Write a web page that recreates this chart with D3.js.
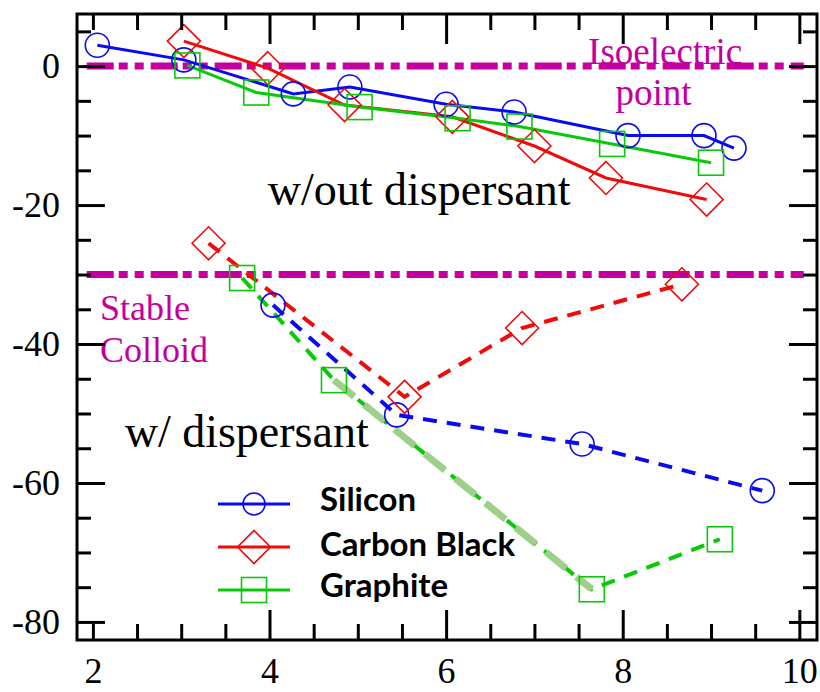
<!DOCTYPE html>
<html>
<head>
<meta charset="utf-8">
<script src="https://cdn.jsdelivr.net/npm/d3@7"></script>
<style>
  html, body { margin: 0; padding: 0; background: #fff; }
  svg { display: block; }
  .serif { font-family: "Liberation Serif", "DejaVu Serif", serif; }
  .legend-label { font-family: Lato, "Liberation Sans", sans-serif; font-weight: bold; }
</style>
</head>
<body>
<div id="chart"></div>
<script>
// pH (x) vs zeta potential in mV (y)
const siliconNoDispX = [2.05, 3.03, 4.27, 4.91, 6.0, 6.77, 8.06, 8.92, 9.26];
const siliconNoDispY = [3.0, 0.9, -4.0, -3.0, -5.5, -6.6, -10.0, -10.0, -11.8];
const carbonNoDispX = [3.03, 3.98, 4.85, 6.07, 7.0, 7.81, 8.95];
const carbonNoDispY = [3.6, -0.3, -5.6, -7.3, -11.5, -16.1, -19.2];
const graphiteNoDispX = [3.07, 3.85, 5.02, 6.13, 6.83, 7.88, 9.0];
const graphiteNoDispY = [0.1, -3.8, -5.9, -7.5, -8.7, -11.2, -13.9];

const siliconDispX = [4.04, 5.44, 7.54, 9.58];
const siliconDispY = [-34.4, -50.2, -54.4, -61.1];
const carbonDispX = [3.31, 5.53, 6.86, 8.67];
const carbonDispY = [-25.5, -47.6, -37.7, -31.4];
const graphiteDispX = [3.69, 4.73, 7.65, 9.1];
const graphiteDispY = [-30.5, -45.2, -75.3, -68.1];

const seriesNames = ["Silicon", "Carbon Black", "Graphite"];
const seriesColors = ["#0a0af0", "#f00a0a", "#0ac80a"];
const seriesShapes = ["circle", "diamond", "square"];

const refLevels = [0, -30];          // isoelectric point, stable colloid limit
const refRange = [1.93, 10.05];

const xMajorTicks = [4, 6, 8, 10];
const xLabelTicks = [2, 4, 6, 8, 10];
const yMajorTicks = [-80, -60, -40, -20, 0];

const magenta = "#c3009e";

const width = 820;
const height = 692;
const margin = { top: 14, right: 3, bottom: 52, left: 77 };

const svg = d3.select("#chart")
  .append("svg")
  .attr("width", width)
  .attr("height", height);

const x = d3.scaleLinear()
  .domain([1.82, 10.2])
  .range([margin.left, width - margin.right]);

const y = d3.scaleLinear()
  .domain([-82.6, 7.5])
  .range([height - margin.bottom, margin.top]);

const xMinor = d3.range(2, 10.01, 0.5).filter(v => !xMajorTicks.includes(v));
const yMinor = d3.range(-80, 5.01, 5).filter(v => !yMajorTicks.includes(v));

// reference dash-dot lines
svg.selectAll(".ref")
  .data(refLevels)
  .enter()
  .append("line")
  .attr("class", "ref")
  .attr("x1", x(refRange[0]))
  .attr("x2", x(refRange[1]))
  .attr("y1", d => y(d))
  .attr("y2", d => y(d))
  .attr("stroke", magenta)
  .attr("stroke-width", 7)
  .attr("stroke-dasharray", "27,5,9,7,9,7");

// annotations
const notes = [
  { text: "Isoelectric", x: 8.48, y: 0.3, anchor: "middle", size: 37, color: magenta },
  { text: "point", x: 8.35, y: -5.6, anchor: "middle", size: 37, color: magenta },
  { text: "Stable", x: 2.08, y: -36.5, anchor: "start", size: 36, color: magenta },
  { text: "Colloid", x: 2.08, y: -42.6, anchor: "start", size: 36, color: magenta },
  { text: "w/out dispersant", x: 3.98, y: -20.0, anchor: "start", size: 46, color: "#000" },
  { text: "w/ dispersant", x: 2.36, y: -54.8, anchor: "start", size: 46, color: "#000" },
];

svg.selectAll(".note")
  .data(notes)
  .enter()
  .append("text")
  .attr("class", "note serif")
  .attr("x", d => x(d.x))
  .attr("y", d => y(d.y))
  .attr("text-anchor", d => d.anchor)
  .attr("font-size", d => d.size)
  .attr("fill", d => d.color)
  .text(d => d.text);

// series
const zip = (xs, ys) => xs.map((v, i) => [v, ys[i]]);
const series = [
  { idx: 0, pts: zip(siliconNoDispX, siliconNoDispY), dashed: false },
  { idx: 1, pts: zip(carbonNoDispX, carbonNoDispY), dashed: false },
  { idx: 2, pts: zip(graphiteNoDispX, graphiteNoDispY), dashed: false },
  { idx: 0, pts: zip(siliconDispX, siliconDispY), dashed: true },
  { idx: 1, pts: zip(carbonDispX, carbonDispY), dashed: true },
  { idx: 2, pts: zip(graphiteDispX, graphiteDispY), dashed: true },
];

const line = d3.line().x(d => x(d[0])).y(d => y(d[1]));

series.forEach(s => {
  svg.append("path")
    .datum(s.pts)
    .attr("d", line)
    .attr("fill", "none")
    .attr("stroke", seriesColors[s.idx])
    .attr("stroke-width", s.dashed ? 4 : 3)
    .attr("stroke-dasharray", s.dashed ? "14,10" : null);
});

// light green overlay on graphite segment (4.73 -> 7.65)
svg.append("path")
  .datum(zip(graphiteDispX.slice(1, 3), graphiteDispY.slice(1, 3)))
  .attr("d", line)
  .attr("fill", "none")
  .attr("stroke", "#9fd08a")
  .attr("stroke-width", 7)
  .attr("stroke-dasharray", "26,13");

function marker(g, shape, color, cx, cy) {
  if (shape === "circle") {
    g.append("circle").attr("cx", cx).attr("cy", cy).attr("r", 12);
  } else if (shape === "diamond") {
    const r = 16.5;
    g.append("path").attr("d", `M${cx},${cy - r}L${cx + r},${cy}L${cx},${cy + r}L${cx - r},${cy}Z`);
  } else {
    const h = 12.5;
    g.append("rect").attr("x", cx - h).attr("y", cy - h).attr("width", 2 * h).attr("height", 2 * h);
  }
  g.selectAll("*")
    .attr("fill", "none")
    .attr("stroke", color)
    .attr("stroke-width", 1.6);
}

series.forEach(s => {
  s.pts.forEach(p => {
    const g = svg.append("g");
    marker(g, seriesShapes[s.idx], seriesColors[s.idx], x(p[0]), y(p[1]));
  });
});

// axes with inward ticks on all four sides
const fmt = d => String(d);
const axisStyle = g => {
  g.select(".domain").remove();
  g.selectAll(".tick line").attr("stroke", "#000").attr("stroke-width", 3);
  g.selectAll("text")
    .attr("class", "serif")
    .attr("font-size", 36)
    .attr("fill", "#000");
};

const bottomY = height - margin.bottom;
const rightX = width - margin.right;

svg.append("g").attr("transform", `translate(0,${bottomY})`)
  .call(d3.axisBottom(x).tickValues(xMinor).tickSize(-16).tickFormat(""))
  .call(axisStyle);
svg.append("g").attr("transform", `translate(0,${bottomY})`)
  .call(d3.axisBottom(x).tickValues(xMajorTicks).tickSize(-30).tickFormat(""))
  .call(axisStyle);
svg.append("g").attr("transform", `translate(0,${bottomY})`)
  .call(d3.axisBottom(x).tickValues(xLabelTicks).tickSize(0).tickPadding(17).tickFormat(fmt))
  .call(axisStyle);

svg.append("g").attr("transform", `translate(0,${margin.top})`)
  .call(d3.axisTop(x).tickValues(xMinor).tickSize(-16).tickFormat(""))
  .call(axisStyle);
svg.append("g").attr("transform", `translate(0,${margin.top})`)
  .call(d3.axisTop(x).tickValues(xMajorTicks).tickSize(-30).tickFormat(""))
  .call(axisStyle);

svg.append("g").attr("transform", `translate(${margin.left},0)`)
  .call(d3.axisLeft(y).tickValues(yMinor).tickSize(-14).tickFormat(""))
  .call(axisStyle);
svg.append("g").attr("transform", `translate(${margin.left},0)`)
  .call(d3.axisLeft(y).tickValues(yMajorTicks).tickSize(-28).tickPadding(17).tickFormat(fmt))
  .call(axisStyle);

svg.append("g").attr("transform", `translate(${rightX},0)`)
  .call(d3.axisRight(y).tickValues(yMinor).tickSize(-14).tickFormat(""))
  .call(axisStyle);
svg.append("g").attr("transform", `translate(${rightX},0)`)
  .call(d3.axisRight(y).tickValues(yMajorTicks).tickSize(-28).tickFormat(""))
  .call(axisStyle);

// frame
svg.append("rect")
  .attr("x", margin.left)
  .attr("y", margin.top)
  .attr("width", rightX - margin.left)
  .attr("height", bottomY - margin.top)
  .attr("fill", "none")
  .attr("stroke", "#000")
  .attr("stroke-width", 3);

// legend
const legend = svg.append("g").attr("transform", "translate(218,504)");
seriesNames.forEach((name, i) => {
  const row = legend.append("g").attr("transform", `translate(0,${i * 43})`);
  row.append("line")
    .attr("x1", 0).attr("x2", 72)
    .attr("y1", 0).attr("y2", 0)
    .attr("stroke", seriesColors[i])
    .attr("stroke-width", 3);
  const mg = row.append("g");
  marker(mg, seriesShapes[i], seriesColors[i], 36, 0);
  if (seriesShapes[i] === "circle") mg.select("circle").attr("r", 11);
  row.append("text")
    .attr("class", "legend-label")
    .attr("x", 102)
    .attr("y", 7 + (i === 1 ? 2 : 0))
    .attr("font-size", 33)
    .attr("fill", "#000")
    .text(name);
});
</script>
</body>
</html>
